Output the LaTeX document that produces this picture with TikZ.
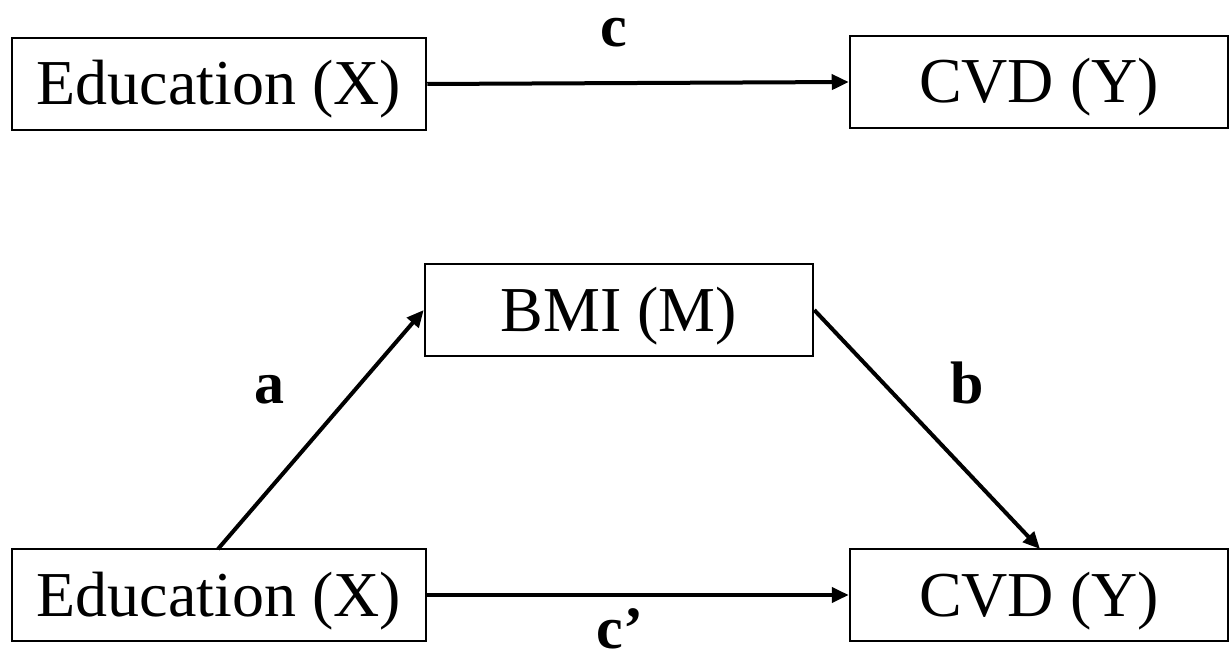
\documentclass[tikz,border=0pt]{standalone}
\usepackage{fontspec}
\setmainfont{Liberation Serif}
\usetikzlibrary{arrows.meta}
\begin{document}
\begin{tikzpicture}[x=1pt,y=-1pt,
  varbox/.style={draw, line width=2.5pt, minimum height=92pt, inner sep=0pt,
    text height=42pt, text depth=0pt,
    font=\fontsize{64}{70}\selectfont},
  path/.style={line width=4pt, -{Triangle[length=17pt,width=15pt]}},
  lbl/.style={anchor=base, inner sep=0pt, font=\bfseries\fontsize{60}{66}\selectfont}]
\useasboundingbox (0,0) rectangle (1229,660);
% total effect
\node[varbox, minimum width=414pt] (x1) at (219,84) {Education (X)};
\node[varbox, minimum width=378pt] (y1) at (1039,82) {CVD (Y)};
\draw[path] (x1.east) -- (y1.west);
\node[lbl] (c) at (614,47) {c};
% mediated effect
\node[varbox, minimum width=388pt] (m) at (619,310) {BMI (M)};
\node[varbox, minimum width=414pt] (x2) at (219,595) {Education (X)};
\node[varbox, minimum width=378pt] (y2) at (1039,595) {CVD (Y)};
\coordinate (xs) at (218,549);
\coordinate (ye) at (1040,549);
\draw[path] (xs) -- (m.west);
\draw[path] (m.east) -- (ye);
\draw[path] (x2.east) -- (y2.west);
\node[lbl] (a) at (269,403) {a};
\node[lbl] (b) at (967,403) {b};
\node[lbl] (cp) at (620,648) {c’};
\end{tikzpicture}
\end{document}
